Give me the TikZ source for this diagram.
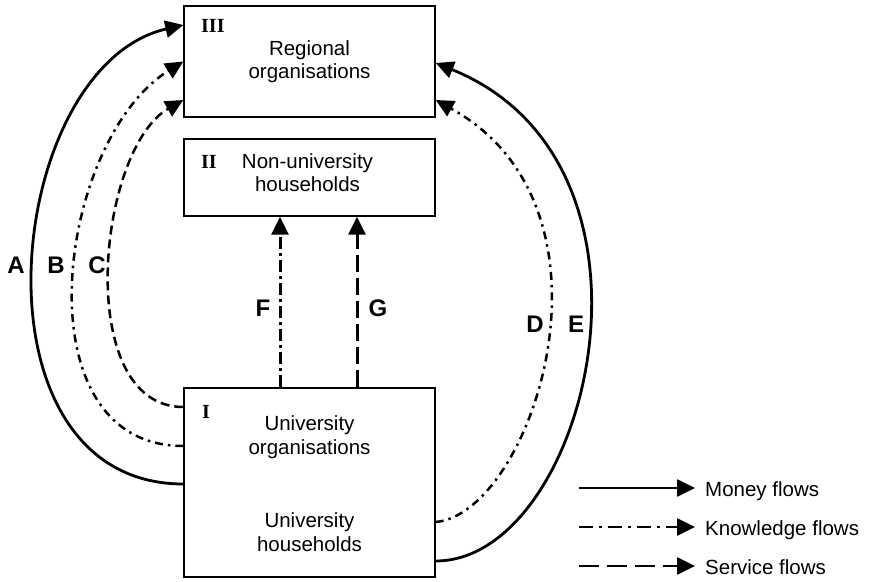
\documentclass[tikz,border=0pt]{standalone}
\usepackage{fontspec}
\setmainfont{Liberation Sans}
\newfontfamily\numfont{Liberation Serif}
\usetikzlibrary{arrows.meta,positioning}

\begin{document}
\begin{tikzpicture}[x=1pt,y=1pt,
  box/.style={draw,line width=1.4pt,minimum width=251pt,inner sep=0pt},
  txt/.style={font=\fontsize{20.5}{23.5}\selectfont,align=center},
  num/.style={font=\fontsize{20}{20}\selectfont\numfont\bfseries,anchor=west,inner sep=0pt},
  lbl/.style={font=\fontsize{24}{24}\selectfont\bfseries,inner sep=0pt},
  leg/.style={font=\fontsize{20.5}{23.5}\selectfont,anchor=base west,inner sep=0pt},
  tip/.style={-{Triangle[length=18pt,width=17pt]}},
  money/.style={tip,line width=2.8pt},
  know/.style={tip,line width=2.5pt,dash pattern=on 8pt off 5pt on 2.5pt off 5pt},
  serv/.style={tip,line width=2.5pt,dash pattern=on 9pt off 5pt}
]
\useasboundingbox (0,0) rectangle (869,581);

% boxes
\node[box,txt,minimum height=111pt] (reg) at (309.5,519.5) {Regional\\organisations};
\node[box,minimum height=77pt] (non) at (309.5,403.5) {};
\node[box,minimum height=189pt] (uni) at (309.5,98.5) {};

\node[txt] (nonT) at ([shift={(-2pt,5pt)}]non.center) {Non-university\\households};
\node[txt] (uniO) at ([yshift=45.5pt]uni.center) {University\\organisations};
\node[txt] (uniH) at ([yshift=-49.5pt]uni.center) {University\\households};

\node[num] (nIII) at (201,555) {III};
\node[num] (nII) at (201,419) {II};
\node[num] (nI) at (202,169) {I};

% flows to the regional organisations
\draw[money] ([yshift=-1.5pt]uni.west) .. controls +(180:220) and +(193:185) .. ([yshift=36.5pt]reg.west);
\draw[know] ([yshift=36.5pt]uni.west) .. controls +(180:165) and +(212:150) .. (reg.west);
\draw[serv] ([yshift=75.5pt]uni.west) .. controls +(180:110) and +(210:100) .. ([yshift=-38.5pt]reg.west);
\draw[know] ([yshift=-39.5pt]uni.east) .. controls +(5:96) and +(-29:226) .. ([yshift=-38.5pt]reg.east);
\draw[money] ([yshift=-78.5pt]uni.east) .. controls +(0:152) and +(-22:270) .. ([yshift=-1.5pt]reg.east);

% flows to the non-university households
\draw[know,line width=3pt,dash pattern=on 12pt off 4pt on 3pt off 4pt]
  ([xshift=-29.5pt]uni.north) -- ([xshift=-29.5pt]non.south);
\draw[serv,line width=3pt,dash pattern=on 17pt off 6pt]
  ([xshift=47.5pt]uni.north) -- ([xshift=47.5pt]non.south);

% letters
\node[lbl] (lA) at (16,316) {A};
\node[lbl] (lB) at (56,316) {B};
\node[lbl] (lC) at (97,316) {C};
\node[lbl] (lF) at (263,273) {F};
\node[lbl] (lG) at (378,273) {G};
\node[lbl] (lD) at (535,257) {D};
\node[lbl] (lE) at (576,257) {E};

% legend
\node[leg] (lm) at (705,85) {Money flows};
\node[leg] (lk) at (705,46) {Knowledge flows};
\node[leg] (ls) at (705,7) {Service flows};
\draw[money,line width=2.6pt] ([shift={(-126pt,8pt)}]lm.base west) -- ([shift={(-10pt,8pt)}]lm.base west);
\draw[know,line width=2.6pt,dash pattern=on 14pt off 6pt on 3pt off 6pt] ([shift={(-126pt,8pt)}]lk.base west) -- ([shift={(-10pt,8pt)}]lk.base west);
\draw[serv,line width=2.6pt,dash pattern=on 20pt off 8pt] ([shift={(-126pt,8pt)}]ls.base west) -- ([shift={(-10pt,8pt)}]ls.base west);
\end{tikzpicture}
\end{document}
